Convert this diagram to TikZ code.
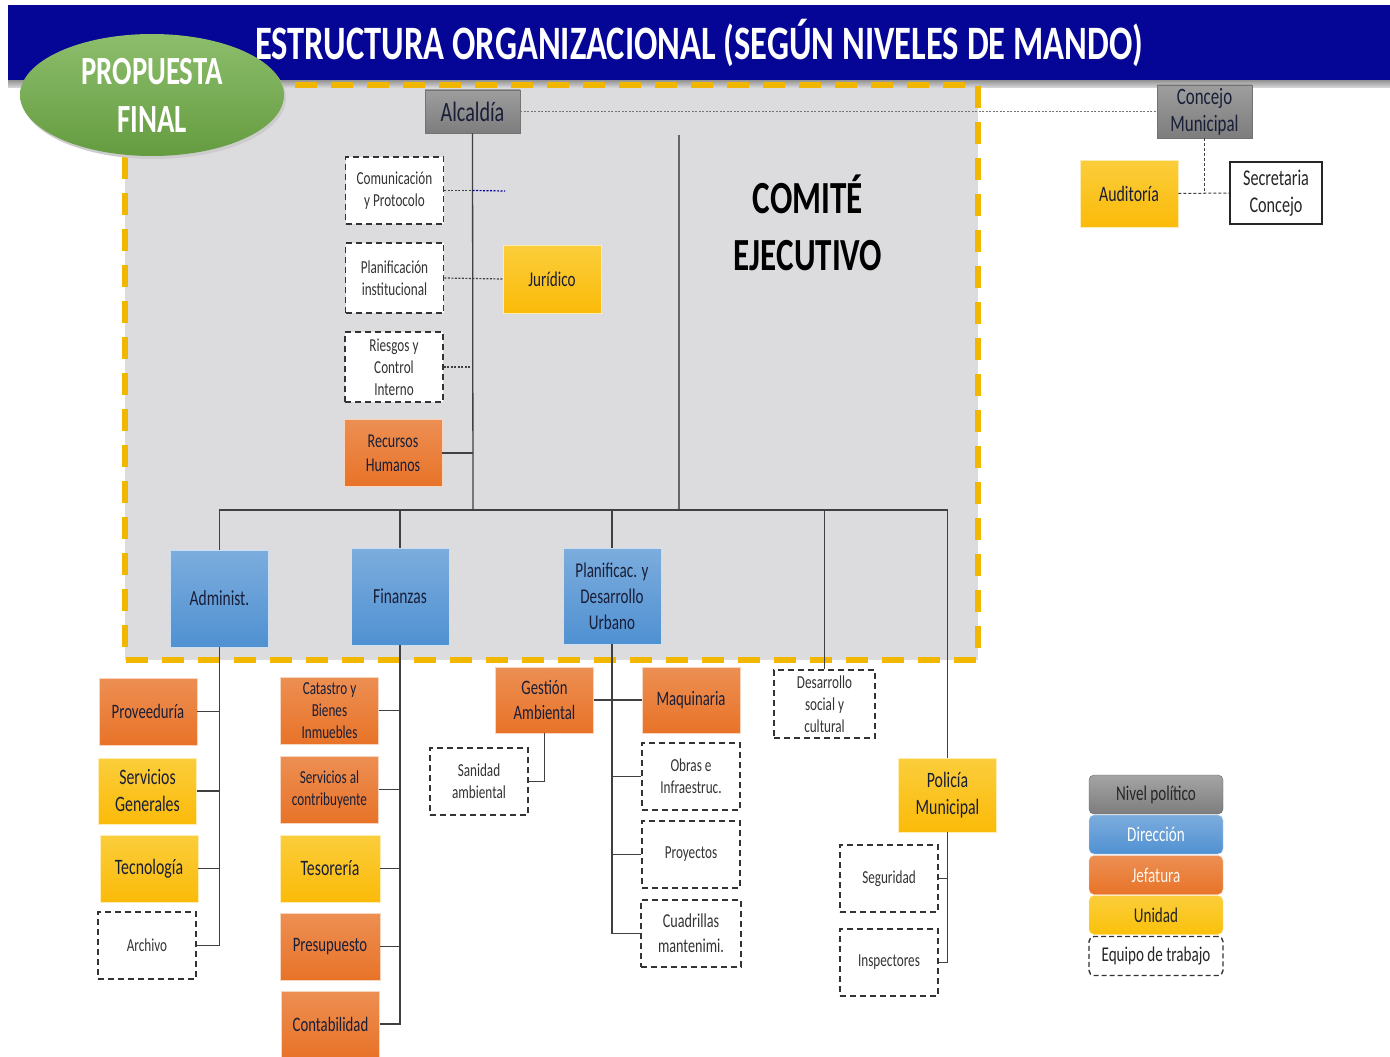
\documentclass[tikz,border=0pt]{standalone}
\usepackage{fontspec}
\setmainfont{Carlito}[FakeStretch=0.72]
\usetikzlibrary{shapes.geometric}

\definecolor{titleblue}{RGB}{5,5,150}
\definecolor{propgreen}{RGB}{112,173,71}
\definecolor{zonegray}{RGB}{220,220,223}
\definecolor{zoneedge}{RGB}{240,182,0}
\definecolor{polgray}{RGB}{125,125,125}
\definecolor{dirblue}{RGB}{80,145,210}
\definecolor{jefora}{RGB}{232,115,40}
\definecolor{unidyel}{RGB}{250,193,10}
\definecolor{darktext}{RGB}{25,30,55}

\tikzset{
  txs/.style={font=\fontsize{18.3}{22}\selectfont},
  txm/.style={font=\fontsize{20.5}{25.5}\selectfont},
  txl/.style={font=\fontsize{22}{27}\selectfont},
  boxbase/.style={rectangle, minimum width=98pt, minimum height=67pt,
    inner sep=1pt, align=center, text=darktext},
  polit/.style={boxbase, draw=black!55, line width=0.8pt,
    top color=polgray!75, bottom color=polgray},
  direc/.style={boxbase, draw=white!70!dirblue, line width=0.6pt,
    top color=dirblue!75, bottom color=dirblue},
  jefe/.style={boxbase, draw=white!70!jefora, line width=0.6pt,
    top color=jefora!80, bottom color=jefora},
  unid/.style={boxbase, draw=white!70!unidyel, line width=0.6pt,
    top color=unidyel!80, bottom color=unidyel!90!orange},
  equipo/.style={boxbase, fill=white, draw=black!80, line width=1.6pt,
    dash pattern=on 6pt off 4pt, text=black!80},
  link/.style={draw=black!75, line width=1.3pt},
  dotlink/.style={draw=black!75, line width=1.2pt, dash pattern=on 2pt off 1.5pt},
  dashlink/.style={draw=black!75, line width=1pt, dash pattern=on 3pt off 2pt},
  legbox/.style={minimum width=134pt, minimum height=39pt, rounded corners=5pt,
    inner sep=1pt, font=\fontsize{21}{25}\selectfont}
}

\begin{document}
\begin{tikzpicture}[x=1pt, y=-1pt]
  \useasboundingbox (0,0) rectangle (1390,1057);
  \fill[white] (0,0) rectangle (1390,1057);

  % Committee zone
  \fill[zonegray] (125,85) rectangle (978,660);
  \shade[top color=black!50, bottom color=zonegray] (8,78) rectangle (1390,88);
  \draw[zoneedge, line width=6pt, dash pattern=on 22pt off 14pt] (125,85) rectangle (978,660);

  % Title bar
  \node[fill=titleblue, minimum width=1382pt, minimum height=75pt, inner sep=0pt,
    text=white, font=\bfseries\fontsize{48}{50}\selectfont] (title) at (699,42.5)
    {ESTRUCTURA ORGANIZACIONAL (SEGÚN NIVELES DE MANDO)};

  % Proposal badge
  \fill[black!20] (154,98) ellipse (132pt and 61pt);
  \node[ellipse, minimum width=264pt, minimum height=122pt, inner sep=0pt,
    top color=propgreen!80!white, bottom color=propgreen!90!black, align=center,
    text=white, font=\bfseries\fontsize{40}{48}\selectfont] (prop) at (152,95)
    {PROPUESTA\\FINAL};

  \node[align=center, text=black, font=\bfseries\fontsize{46}{57}\selectfont]
    (comite) at (808,223) {COMITÉ\\EJECUTIVO};

  % Political level
  \node[polit, font=\fontsize{28}{30}\selectfont, minimum width=95pt, minimum height=43pt] (alc) at (472.5,111.5) {Alcaldía};
  \node[polit, font=\fontsize{23.5}{27}\selectfont, minimum width=95pt, minimum height=53pt] (con) at (1204.5,111.5) {Concejo\\Municipal};
  \node[unid, txl] (aud) at (1129,193.5) {Auditoría};
  \node[boxbase, font=\fontsize{22.5}{27}\selectfont, fill=white, draw=black!85, line width=1.6pt,
    minimum width=92pt, minimum height=62pt, text=black!85] (sec) at (1276,193) {Secretaria\\Concejo};

  % Staff units
  \node[equipo, txs] (com) at (394.5,190.5) {Comunicación\\y Protocolo};
  \node[equipo, txs, minimum height=70pt] (pin) at (394.5,278) {Planificación\\institucional};
  \node[equipo, txs, minimum height=70pt] (rie) at (394,367) {Riesgos y\\Control\\Interno};
  \node[jefe, font=\fontsize{19.5}{24}\selectfont] (rrhh) at (393,453) {Recursos\\Humanos};
  \node[unid, font=\fontsize{21}{25}\selectfont, minimum height=68pt] (jur) at (552,279) {Jurídico};

  % Directions
  \node[direc, font=\fontsize{21.5}{26}\selectfont, minimum height=97pt] (adm) at (219.5,598.5) {Administ.};
  \node[direc, font=\fontsize{21.5}{26}\selectfont, minimum height=97pt] (fin) at (400,596.5) {Finanzas};
  \node[direc, font=\fontsize{21}{26}\selectfont, minimum height=96pt] (pdu) at (612,596) {Planificac. y\\Desarrollo\\Urbano};

  % Administ. branch
  \node[jefe, txm] (prov) at (148,711.5) {Proveeduría};
  \node[unid, txl, minimum height=66pt] (sgen) at (147.5,791) {Servicios\\Generales};
  \node[unid, txl] (tec) at (149,868.5) {Tecnología};
  \node[equipo, txs] (arch) at (147,945.5) {Archivo};

  % Finanzas branch
  \node[jefe, txs] (cat) at (329.5,710.5) {Catastro y\\Bienes\\Inmuebles};
  \node[jefe, txs] (scon) at (329.5,789.5) {Servicios al\\contribuyente};
  \node[unid, txl, minimum width=100pt] (tes) at (330,868.5) {Tesorería};
  \node[jefe, txm, minimum width=100pt] (pre) at (330,946.5) {Presupuesto};
  \node[jefe, txm, minimum height=66pt] (cont) at (330.5,1024) {Contabilidad};

  % Planificac. branch
  \node[jefe, txm, minimum height=66pt] (ges) at (544.5,700) {Gestión\\Ambiental};
  \node[jefe, txm, minimum height=66pt] (maq) at (691,700) {Maquinaria};
  \node[equipo, txs] (san) at (479,781.5) {Sanidad\\ambiental};
  \node[equipo, txs] (obr) at (691,776.5) {Obras e\\Infraestruc.};
  \node[equipo, txs] (proy) at (691,854.5) {Proyectos};
  \node[equipo, font=\fontsize{19.7}{25}\selectfont, minimum width=100pt] (cua) at (691,933.5) {Cuadrillas\\mantenimi.};

  % Other units
  \node[equipo, txs, minimum width=101pt, minimum height=68pt] (des) at (824.5,704) {Desarrollo\\social y\\cultural};
  \node[unid, txl, minimum height=74pt] (pol) at (947.5,795) {Policía\\Municipal};
  \node[equipo, txs] (seg) at (889,878.5) {Seguridad};
  \node[equipo, txs] (ins) at (889,962.5) {Inspectores};

  % Connectors
  \coordinate (hub) at (473,510);
  \coordinate (cmtop) at (679,135);
  \coordinate (stub) at (505,191);
  \draw[dashlink, black!55, line width=0.8pt, dash pattern=on 2pt off 1.5pt] (alc.east) -- (con.west);
  \draw[dashlink] (con.south) -- (con.south |- aud.east);
  \draw[dashlink] (aud.east) -- (sec.west);
  \draw[link] (alc.south) -- (hub);
  \draw[link, black!60] (cmtop) -- (cmtop |- hub);
  \draw[dotlink] (com.east) -- (com.east -| alc.south);
  \draw[dotlink, blue!60!black] (com.east -| alc.south) -- (stub);
  \draw[dotlink] (pin.east) -- (jur.west);
  \draw[dotlink] (rie.east) -- (rie.east -| alc.south);
  \draw[link] (rrhh.east) -- (rrhh.east -| alc.south);
  \draw[link] (adm.north) |- (pol.north |- hub) -- (pol.north);
  \draw[link] (fin.north) -- (fin.north |- hub);
  \draw[link] (pdu.north) -- (pdu.north |- hub);
  \draw[link] (des.north) -- (des.north |- hub);

  \draw[link] (adm.south) |- (arch.east);
  \foreach \k in {prov,sgen,tec} {
    \draw[link] (\k.east) -- (\k.east -| adm.south);
  }
  \draw[link] (fin.south) |- (cont.east);
  \foreach \k in {cat,scon,tes,pre} {
    \draw[link] (\k.east) -- (\k.east -| fin.south);
  }
  \draw[link] (pdu.south) |- (cua.west);
  \draw[link] (ges.east) -- (maq.west);
  \draw[link] (ges.south) |- (san.east);
  \foreach \k in {obr,proy} {
    \draw[link] (\k.west) -- (\k.west -| pdu.south);
  }
  \draw[link] (pol.south) |- (ins.east);
  \draw[link] (seg.east) -- (seg.east -| pol.south);

  % Legend
  \node[legbox, draw=black!60, top color=polgray!70, bottom color=polgray, text=black!85] (lpol) at (1156,794.5) {Nivel político};
  \node[legbox, draw=white!70!dirblue, top color=dirblue!75, bottom color=dirblue, text=white] (ldir) at (1156,834.5) {Dirección};
  \node[legbox, draw=white!70!jefora, top color=jefora!80, bottom color=jefora, text=white!92!orange] (ljef) at (1156,875) {Jefatura};
  \node[legbox, draw=white!70!unidyel, top color=unidyel!80, bottom color=unidyel, text=black!85] (luni) at (1156,915) {Unidad};
  \node[legbox, fill=white, draw=black!80, line width=1.4pt, dash pattern=on 5pt off 3pt, text=black!85] (lequ) at (1156,956) {Equipo de trabajo};
\end{tikzpicture}
\end{document}
